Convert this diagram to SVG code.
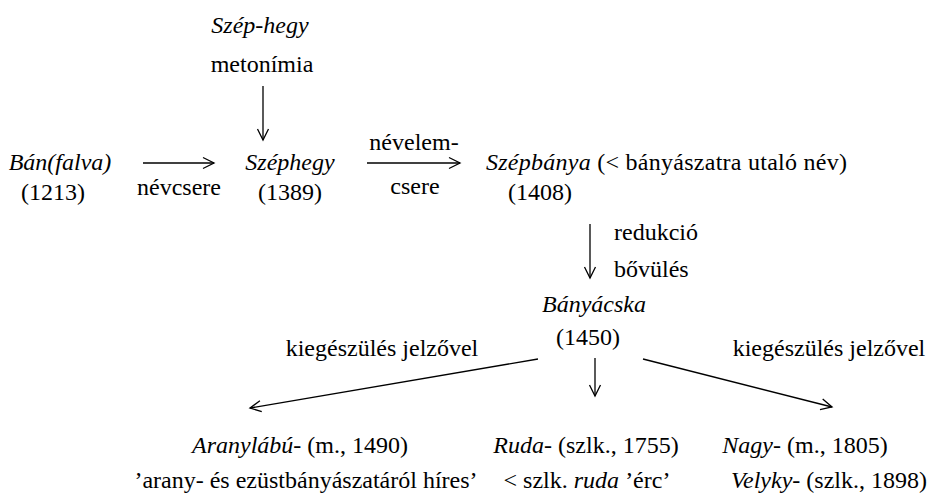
<svg xmlns="http://www.w3.org/2000/svg" width="951" height="496" viewBox="0 0 951 496">
<style>
text{font-family:"Liberation Serif","Times New Roman",serif;font-size:24px;fill:#000}
.i{font-style:italic}
.c{text-anchor:middle}
.a{stroke:#000;stroke-width:1.3;fill:none;marker-end:url(#h)}
</style>
<defs>
<marker id="h" markerUnits="userSpaceOnUse" markerWidth="14" markerHeight="14" viewBox="0 0 14 14" refX="12" refY="7" orient="auto">
<path d="M1,1.5 L12,7 L1,12.5" fill="none" stroke="#000" stroke-width="1.3"/>
</marker>
</defs>
<rect width="951" height="496" fill="#fff"/>
<g id="szep-hegy"><text class="i c" x="260" y="33">Szép-hegy</text><text class="c" x="262" y="72">metonímia</text></g>
<g id="banfalva"><text class="i c" x="60" y="170">Bán(falva)</text><text class="c" x="53" y="200">(1213)</text></g>
<g id="szephegy"><text class="i c" x="290" y="170">Széphegy</text><text class="c" x="290" y="200">(1389)</text></g>
<g id="szepbanya"><text x="486" y="170" textLength="361" lengthAdjust="spacing"><tspan class="i">Szépbánya</tspan> (&lt; bányászatra utaló név)</text><text class="c" x="540" y="200">(1408)</text></g>
<g id="banyacska"><text class="i c" x="594" y="312">Bányácska</text><text class="c" x="588" y="345">(1450)</text></g>
<g id="aranylabu"><text class="c" x="300" y="453"><tspan class="i">Aranylábú</tspan>- (m., 1490)</text><text class="c" x="306" y="488">’arany- és ezüstbányászatáról híres’</text></g>
<g id="ruda"><text class="c" x="586" y="453"><tspan class="i">Ruda</tspan>- (szlk., 1755)</text><text class="c" x="587" y="488">&lt; szlk. <tspan class="i">ruda</tspan> ’érc’</text></g>
<g id="nagy"><text class="c" x="805" y="453"><tspan class="i">Nagy</tspan>- (m., 1805)</text><text class="c" x="829" y="488"><tspan class="i">Velyky</tspan>- (szlk., 1898)</text></g>
<g id="connectors">
<line class="a" x1="263" y1="86" x2="263" y2="140"/>
<line class="a" x1="143" y1="163" x2="214" y2="163"/>
<line class="a" x1="367" y1="163" x2="460" y2="163"/>
<line class="a" x1="590" y1="224" x2="590" y2="278"/>
<line class="a" x1="538" y1="359" x2="250" y2="408"/>
<line class="a" x1="595" y1="358" x2="595" y2="396"/>
<line class="a" x1="643" y1="359" x2="832" y2="407"/>
<text class="c" x="179" y="195">névcsere</text>
<text class="c" x="414" y="150">névelem-</text>
<text class="c" x="415" y="194">csere</text>
<text x="614" y="240">redukció</text>
<text x="614" y="277">bővülés</text>
<text class="c" x="382" y="356">kiegészülés jelzővel</text>
<text class="c" x="829" y="356">kiegészülés jelzővel</text>
</g>
</svg>
